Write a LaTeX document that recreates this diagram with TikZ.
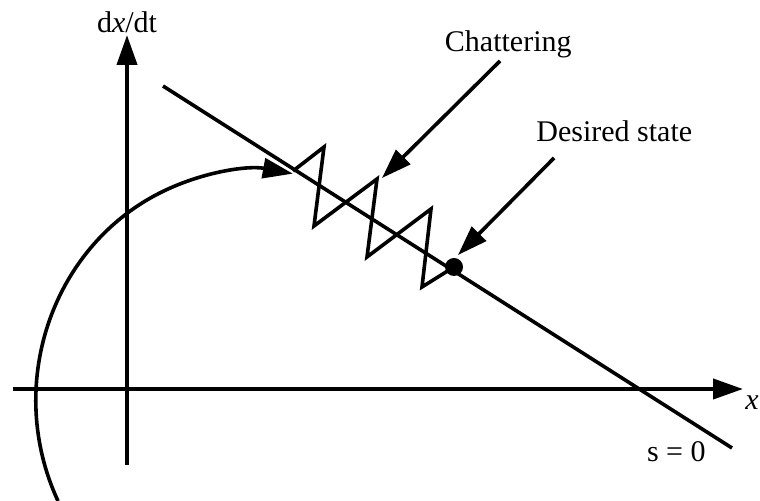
\documentclass[tikz,border=0pt]{standalone}
\usepackage{fontspec}
\setmainfont{Liberation Serif}
\usetikzlibrary{arrows.meta}

\begin{document}
\begin{tikzpicture}[
    x=0.5pt, y=-0.5pt,
    axis/.style={line width=2pt, -{Triangle[length=15pt, width=10pt]}},
    curve/.style={line width=1.8pt},
    pointer/.style={line width=1.8pt, -{Triangle[length=15pt, width=10pt]}},
    lbl/.style={font=\fontsize{15}{17}\selectfont, inner sep=0pt}
  ]
  \useasboundingbox (0,0) rectangle (760,501);

  % axes
  \coordinate (xstart) at (13,389);
  \coordinate (xend) at (743,389);
  \coordinate (ystart) at (127,465);
  \coordinate (yend) at (127,35);
  \draw[axis] (xstart) -- (xend);
  \draw[axis] (ystart) -- (yend);
  \node[lbl, anchor=base] (ylbl) at (127,33) {d\textit{x}/dt};
  \node[lbl, anchor=base west] (xlbl) at (745,410) {\textit{x}};

  % switching line
  \coordinate (sA) at (163,86);
  \coordinate (sB) at (732,448);
  \draw[curve] (sA) -- (sB);
  \node[lbl, anchor=base east] (slbl) at (706,462) {s = 0};

  % trajectory reaching the line
  \coordinate (entry) at (58,501);
  \coordinate (hit) at (293,171);
  \draw[pointer] (entry) arc[start angle=154, end angle=280, x radius=219, y radius=230];

  % chattering along the line
  \node[circle, fill, inner sep=0pt, minimum size=9pt] (goal) at (454,267) {};
  \draw[curve] (hit) -- (324,147) -- (314,226) -- (377,179) -- (367,257)
    -- (431,209) -- (422,287) -- (goal.center);

  % labels with pointers
  \node[lbl, anchor=base east] (chat) at (572,52) {Chattering};
  \node[lbl, anchor=base west] (des) at (536,142) {Desired state};
  \coordinate (chatfrom) at (500,61);
  \coordinate (chatto) at (382,178);
  \coordinate (desfrom) at (554,158);
  \coordinate (desto) at (458,255);
  \draw[pointer] (chatfrom) -- (chatto);
  \draw[pointer] (desfrom) -- (desto);
\end{tikzpicture}
\end{document}
